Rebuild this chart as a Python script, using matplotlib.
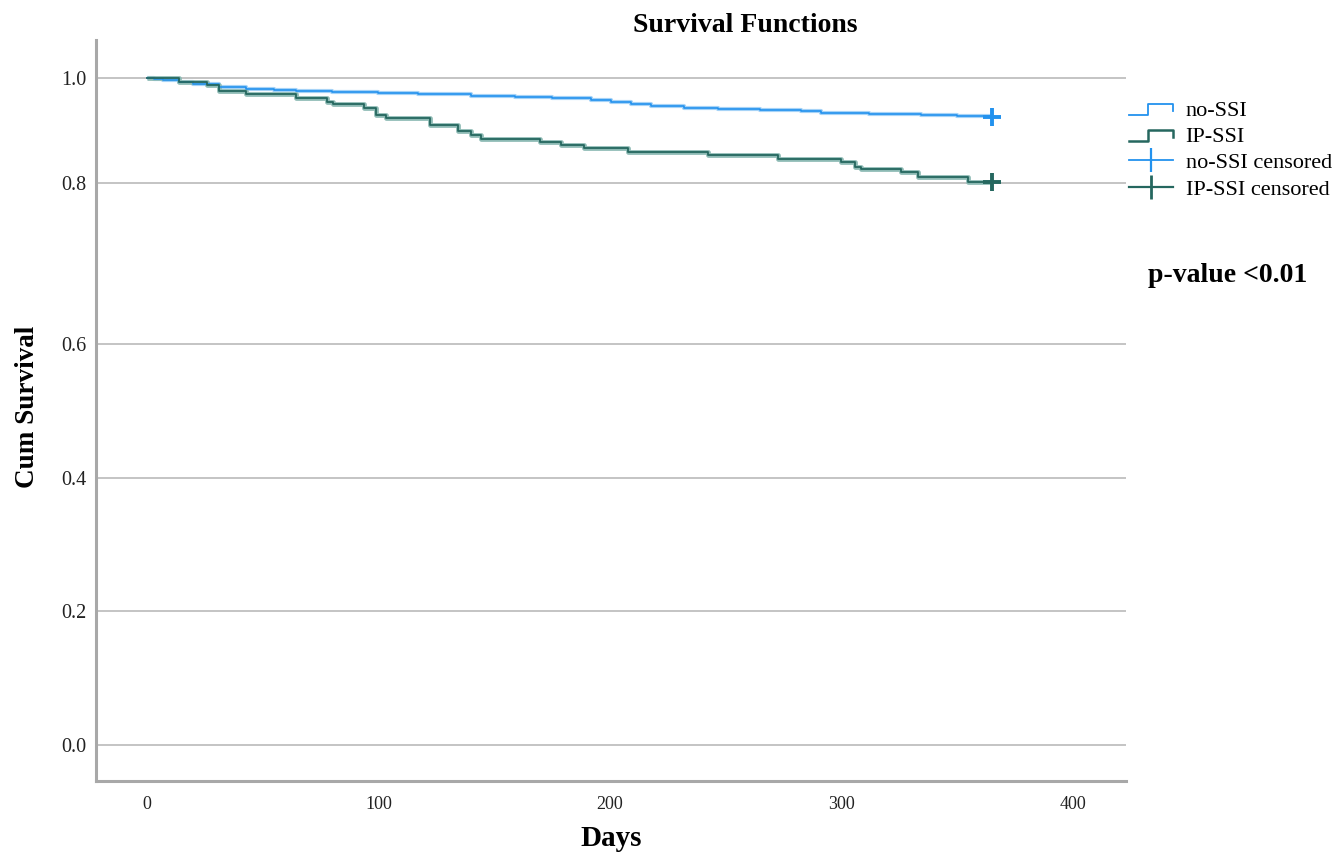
import numpy as np
import matplotlib
matplotlib.use("Agg")
import matplotlib.pyplot as plt
from matplotlib.lines import Line2D
from matplotlib.legend_handler import HandlerBase

# ---------------- data ----------------
ip_days = [0, 13.7, 25.8, 31.0, 42.6, 64.2, 77.6, 80.6, 93.6, 98.8, 103.5, 122.5,
           134.6, 139.8, 144.5, 170.0, 179.1, 189.0, 208.0, 242.5, 272.8, 300.0,
           306.0, 308.6, 325.9, 333.3, 354.8, 365.0]
ip_surv = [1.0, 0.9924, 0.9861, 0.9753, 0.9685, 0.9620, 0.9544, 0.9495, 0.9419,
           0.9292, 0.9229, 0.9102, 0.8988, 0.8912, 0.8836, 0.8784, 0.8722, 0.8659,
           0.8594, 0.8532, 0.8456, 0.8405, 0.8310, 0.8266, 0.8215, 0.8108, 0.8025,
           0.8025]
no_days = [0, 3.0, 7.0, 13.7, 20.0, 31.0, 42.6, 55.0, 64.2, 80.0, 100.0, 117.3,
           140.0, 159.2, 175.0, 192.0, 200.6, 209.0, 217.9, 232.0, 246.8, 265.0,
           282.7, 291.3, 312.0, 334.5, 350.0, 365.0]
no_surv = [1.0, 0.9975, 0.9950, 0.9913, 0.9875, 0.9829, 0.9780, 0.9765, 0.9753,
           0.9730, 0.9705, 0.9685, 0.9655, 0.9628, 0.9605, 0.9576, 0.9533, 0.9500,
           0.9462, 0.9430, 0.9400, 0.9385, 0.9373, 0.9324, 0.9310, 0.9292, 0.9268,
           0.9248]
censor_day = 365.0
x_ticks = [0, 100, 200, 300, 400]
y_ticks = [0.0, 0.2, 0.4, 0.6, 0.8, 1.0]
labels = ["no-SSI", "IP-SSI", "no-SSI censored", "IP-SSI censored"]

# ---------------- style ----------------
plt.rcParams['font.family'] = ['Liberation Serif', 'DejaVu Serif']
BLUE = '#2392ee'
BLUE_L = '#a6d3f7'
TEAL = '#25675f'
TEAL_L = '#8dbab4'

fig = plt.figure(figsize=(13.42, 8.52), dpi=100)
ax = fig.add_axes([96/1342, 1-781/852, (1126-96)/1342, (781-40)/852])

# piecewise axis as displayed in the reference
kv = [-0.4, 0.0, 0.2, 0.4, 0.6, 0.8, 1.0, 1.4]
kp = [-268, 0, 134, 267, 401, 562, 667.3, 667.3 + 105.3 * 2]
fwd = lambda v: np.interp(v, kv, kp)
inv = lambda p: np.interp(p, kp, kv)
ax.set_yscale('function', functions=(fwd, inv))

for y in y_ticks:
    ax.axhline(y, color='#b4b4b4', lw=1.1, zorder=1)

ax.plot(no_days, no_surv, drawstyle='steps-post', color=BLUE_L, lw=3.0, zorder=2, solid_capstyle='butt')
ax.plot(no_days, no_surv, drawstyle='steps-post', color=BLUE, lw=1.2, zorder=3)
ax.plot(ip_days, ip_surv, drawstyle='steps-post', color=TEAL_L, lw=3.4, zorder=2, solid_capstyle='butt')
ax.plot(ip_days, ip_surv, drawstyle='steps-post', color=TEAL, lw=1.3, zorder=3)

ax.plot([censor_day], [no_surv[-1]], marker='+', color=BLUE, markersize=13, mew=2.8, ls='none', zorder=4)
ax.plot([censor_day], [ip_surv[-1]], marker='+', color=TEAL, markersize=13, mew=2.8, ls='none', zorder=4)

ax.set_xlim(-22, 423)
ax.set_ylim(-0.0537, 1.0716)
ax.set_xticks(x_ticks)
ax.set_xticklabels([str(t) for t in x_ticks])
ax.set_yticks(y_ticks)
ax.set_yticklabels([f"{t:.1f}" for t in y_ticks])
ax.minorticks_off()
ax.tick_params(axis='both', length=0, colors='#222222')
ax.tick_params(axis='x', pad=11, labelsize=13)
ax.tick_params(axis='y', pad=7, labelsize=14.5)
for s in ['top', 'right']:
    ax.spines[s].set_visible(False)
for s in ['left', 'bottom']:
    ax.spines[s].set_color('#a8a8a8')
    ax.spines[s].set_linewidth(2.2)


class StepHandler(HandlerBase):
    def create_artists(self, legend, orig_handle, xdescent, ydescent, width, height, fontsize, trans):
        w, h = width, height
        xs = np.array([0, 0.43 * w, 0.43 * w, w, w]) - xdescent
        ys = np.array([0.05 * h, 0.05 * h, 0.75 * h, 0.75 * h, 0.3 * h]) - ydescent
        ln = Line2D(xs, ys, color=orig_handle.get_color(), lw=orig_handle.get_linewidth())
        ln.set_transform(trans)
        return [ln]


h1 = Line2D([], [], color=BLUE, lw=1.3)
h2 = Line2D([], [], color=TEAL, lw=1.8)
h3 = Line2D([0], [0], color=BLUE, lw=1.3, marker='|', markersize=17, mew=1.6)
h4 = Line2D([0], [0], color=TEAL, lw=1.6, marker='|', markersize=17, mew=2.0)
fig.legend([h1, h2, h3, h4], labels, loc='upper left',
           bbox_to_anchor=(1129/1342, 1-100/852), frameon=False, fontsize=16,
           handlelength=2.0, handletextpad=0.55, labelspacing=0.26,
           borderpad=0, borderaxespad=0,
           handler_map={h1: StepHandler(), h2: StepHandler()})

fig.text(745/1342, 1-25/852, "Survival Functions", ha='center', va='center',
         fontsize=20, fontweight='bold')
fig.text(28/1342, 1-407/852, "Cum Survival", ha='center', va='center',
         rotation=90, fontsize=19.5, fontweight='bold')
fig.text(611/1342, 1-838/852, "Days", ha='center', va='center',
         fontsize=21, fontweight='bold')
fig.text(1148/1342, 1-275/852, "p-value <0.01", ha='left', va='center',
         fontsize=20, fontweight='bold')

fig.savefig("out.png", dpi=100)
